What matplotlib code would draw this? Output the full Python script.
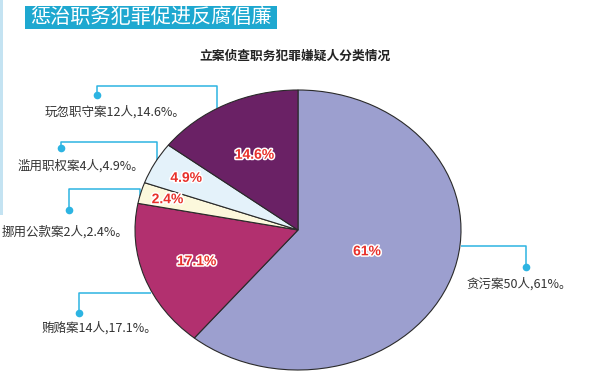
import matplotlib
matplotlib.use('Agg')
import matplotlib.pyplot as plt
import matplotlib.patheffects as pe
import numpy as np

plt.rcParams['font.family'] = ['Noto Sans CJK SC', 'DejaVu Sans']

# data
categories = ['贪污案', '贿赂案', '挪用公款案', '滥用职权案', '玩忽职守案']
counts = [50, 14, 2, 4, 12]
pct_labels = ['61%', '17.1%', '2.4%', '4.9%', '14.6%']
title = '惩治职务犯罪促进反腐倡廉'
subtitle = '立案侦查职务犯罪嫌疑人分类情况'

colors = ['#9c9fcf', '#b2306f', '#fcf8dc', '#e4f2fa', '#6a2165']
# distance of the percent label from centre, per slice
label_dist = [0.45, 0.66, 0.83, 0.78, 0.6]

W, H = 600, 391
fig = plt.figure(figsize=(W / 100, H / 100), dpi=100)

# overlay in pixel coords (background)
bg = fig.add_axes([0, 0, 1, 1])
bg.set_xlim(0, W)
bg.set_ylim(H, 0)
bg.axis('off')

# left strip + banner
bg.add_patch(plt.Rectangle((0, 0), 3, 215, color='#c4e3f2', lw=0))
bg.add_patch(plt.Rectangle((25, 6), 252, 23, color='#1ea8d0', lw=0))
bg.text(151, 17.5, title, color='white', fontsize=14.5, ha='center', va='center')
bg.text(295, 56, subtitle, color='#222222', fontsize=9.2, fontweight='bold',
        ha='center', va='center')

# callouts: text centre and connector path (pixel layout)
callouts = [
    ((519, 284), [(526, 267), (526, 246), (461, 246)]),
    ((99, 328), [(79, 313), (79, 293), (151, 293)]),
    ((65, 232), [(69, 210), (69, 189), (140, 189), (140, 196)]),
    ((81, 166), [(61, 148), (61, 142), (157, 142), (157, 160)]),
    ((115, 112), [(97, 95), (97, 86), (217, 86), (217, 108)]),
]
line_c = '#2db4e2'
for name, n, p, (txy, path) in zip(categories, counts, pct_labels, callouts):
    xs, ys = zip(*path)
    bg.plot(xs, ys, color=line_c, lw=1.1, solid_capstyle='butt')
    bg.plot(xs[0], ys[0], 'o', color=line_c, ms=5.5, mec='none')
    bg.text(txy[0], txy[1], f'{name}{n}人,{p}。', fontsize=9, color='#333333',
            ha='center', va='center')

# pie (elliptical: stretch the axes)
cx, cy, rx, ry = 298, 230, 163, 140
pax = fig.add_axes([(cx - rx) / W, (H - cy - ry) / H, 2 * rx / W, 2 * ry / H])
wedges, _ = pax.pie(counts, colors=colors, startangle=90, counterclock=False,
                    wedgeprops=dict(edgecolor='#2a2a2a', linewidth=0.8))
pax.set_aspect('auto')
pax.set_xlim(-1, 1)
pax.set_ylim(-1, 1)
pax.axis('off')

for w, lab, d in zip(wedges, pct_labels, label_dist):
    ang = np.deg2rad((w.theta1 + w.theta2) / 2)
    pax.text(d * np.cos(ang), d * np.sin(ang), lab, color='#e8302a',
             fontsize=10, fontweight='bold', family=['Liberation Sans', 'DejaVu Sans'],
             ha='center', va='center',
             path_effects=[pe.withStroke(linewidth=2.2, foreground='white')])

fig.savefig('out.png', dpi=100)
